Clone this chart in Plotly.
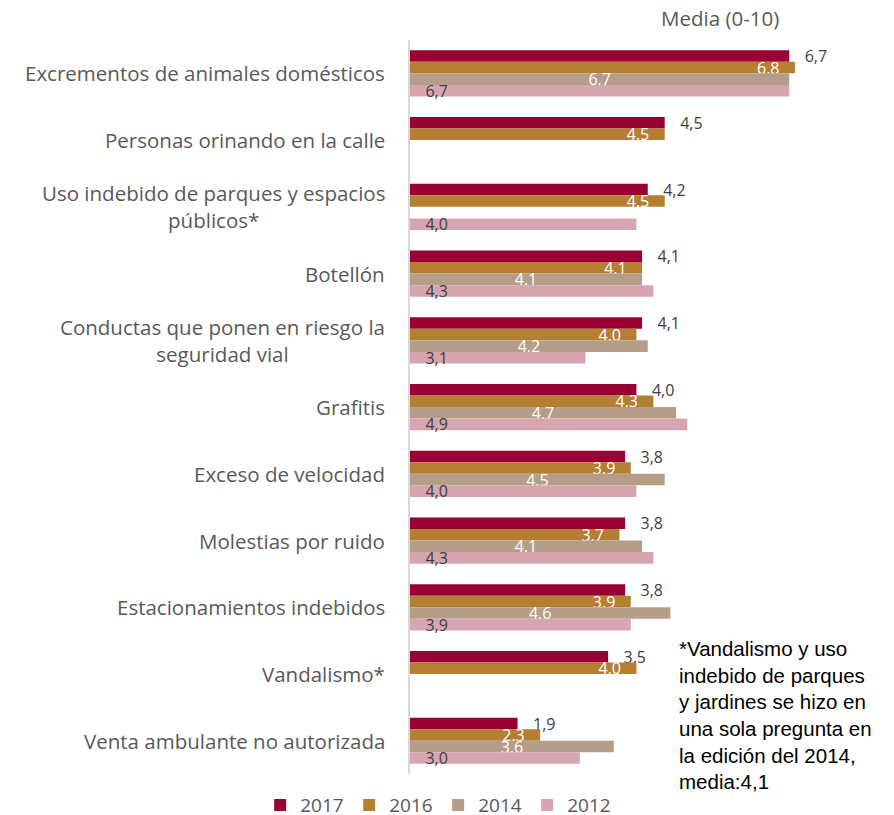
import plotly.graph_objects as go

categories = [
    "Excrementos de animales domésticos",
    "Personas orinando en la calle",
    "Uso indebido de parques y espacios<br>públicos*",
    "Botellón",
    "Conductas que ponen en riesgo la<br>seguridad vial",
    "Grafitis",
    "Exceso de velocidad",
    "Molestias por ruido",
    "Estacionamientos indebidos",
    "Vandalismo*",
    "Venta ambulante no autorizada",
]
v2017 = [6.7, 4.5, 4.2, 4.1, 4.1, 4.0, 3.8, 3.8, 3.8, 3.5, 1.9]
v2016 = [6.8, 4.5, 4.5, 4.1, 4.0, 4.3, 3.9, 3.7, 3.9, 4.0, 2.3]
v2014 = [6.7, None, None, 4.1, 4.2, 4.7, 4.5, 4.1, 4.6, None, 3.6]
v2012 = [6.7, None, 4.0, 4.3, 3.1, 4.9, 4.0, 4.3, 3.9, None, 3.0]

nb = "\u00a0"
series = [
    ("2017", v2017, "#990033", "outside", "end", "#404040", nb * 3 + "%{x:.1f}"),
    ("2016", v2016, "#B57F33", "inside", "end", "white", "%{x:.1f}" + nb * 3),
    ("2014", v2014, "#B59E89", "inside", "middle", "white", "%{x:.1f}"),
    ("2012", v2012, "#D6A5B0", "inside", "start", "#404040", nb * 3 + "%{x:.1f}"),
]

ids = list(range(len(categories)))

fig = go.Figure()
for name, vals, color, pos, anchor, tcolor, tmpl in series:
    fig.add_trace(go.Bar(
        y=ids, x=vals, name=name, orientation="h",
        marker_color=color, marker_line_width=0,
        texttemplate=tmpl, textposition=pos, insidetextanchor=anchor,
        textangle=0, constraintext="none", cliponaxis=False,
        textfont=dict(size=16, color=tcolor),
        outsidetextfont=dict(size=16, color=tcolor),
        hoverinfo="skip",
    ))

for i, cat in enumerate(categories):
    fig.add_annotation(
        x=0, xref="paper", xanchor="right", xshift=-23,
        y=i, yref="y", yanchor="middle",
        text=cat, align="center", showarrow=False,
        font=dict(size=20.5, color="#595959"),
    )

fig.add_annotation(
    x=0.689, xref="paper", xanchor="center", y=1.03, yref="paper",
    text="Media (0-10)", showarrow=False, yanchor="middle",
    font=dict(size=20.5, color="#595959"),
)
fig.add_annotation(
    x=0.593, xref="paper", xanchor="left", y=0.08, yref="paper", yanchor="middle",
    text="*Vandalismo y uso<br>indebido de parques<br>y jardines se hizo en<br>una sola pregunta en<br>la edición del 2014,<br>media:4,1",
    align="left", showarrow=False,
    font=dict(family="Liberation Sans, Arial", size=20.5, color="black"),
)

fig.update_layout(
    width=894, height=815,
    margin=dict(l=410, r=34, t=40, b=38),
    barmode="group", bargap=0.31, bargroupgap=0,
    separators=",.",
    plot_bgcolor="white", paper_bgcolor="white",
    font=dict(family="Open Sans, sans-serif", color="#595959"),
    showlegend=True,
    legend=dict(
        orientation="h", xref="container", yref="container",
        x=0.291, xanchor="left", y=0.012, yanchor="middle",
        entrywidth=44, entrywidthmode="pixels",
        font=dict(size=19, color="#595959"),
    ),
)
fig.update_xaxes(range=[0, 7.95], visible=False)
fig.update_yaxes(
    autorange="reversed", tickvals=ids, showticklabels=False,
    showline=True, linecolor="#D9D9D9", linewidth=2, showgrid=False,
    zeroline=False,
)

fig.write_html("out.html", config={"displayModeBar": False},
               post_script="document.body.style.margin='0';")
